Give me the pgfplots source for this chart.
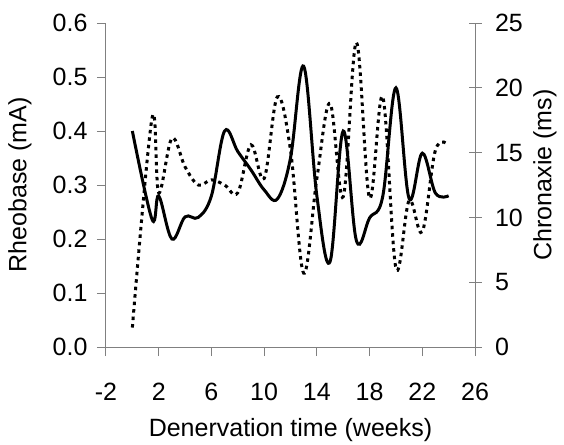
\documentclass[border=0pt]{standalone}
\usepackage{fontspec}
\setmainfont{Liberation Sans}
\usepackage{pgfplots}
\pgfplotsset{compat=1.18}
\pgfplotstableread{
x y
0 0.40
1.5 0.236
2 0.28
3 0.20
4 0.241
5 0.24
6 0.28
7 0.40
8 0.362
9 0.328
10 0.291
11 0.274
12 0.35
13 0.52
14 0.28
15 0.158
16 0.40
17 0.197
18 0.239
19 0.279
20 0.48
21 0.275
22 0.359
23 0.285
24 0.28
}\rheobase
\pgfplotstableread{
x y
0 1.5
1.5 17.7
2 11.9
3 16.1
4 13.9
5 12.5
6 12.9
7 12.5
8 11.9
9 15.6
10 13.0
11 19.3
12 15.2
13 5.7
14 13.0
15 18.8
16 11.6
17 23.5
18 11.5
19 19.3
20 6.1
21 11.3
22 8.9
23 15.2
24 15.6
}\chronaxie
\begin{document}
\begin{tikzpicture}[font=\fontsize{25}{30}\selectfont]
\path (-106pt,-97pt) rectangle (458pt,347pt);
\begin{axis}[
  at={(0,0)}, anchor=south west,
  scale only axis, width=369pt, height=324pt,
  xmin=-2, xmax=26, ymin=0, ymax=0.6,
  axis x line=bottom, axis y line=left,
  axis line style={-, draw=gray, line width=1pt},
  xtick={-2,2,6,10,14,18,22,26},
  xticklabels={-2,2,6,10,14,18,22,26},
  ytick={0,0.1,0.2,0.3,0.4,0.5,0.6},
  yticklabels={0.0,0.1,0.2,0.3,0.4,0.5,0.6},
  tick align=outside, major tick length=9pt,
  tick style={gray, line width=1pt},
  /pgf/number format/assume math mode=true,
  ticklabel style={font=\fontsize{25}{30}\selectfont},
  xticklabel style={yshift=-24pt},
  yticklabel style={xshift=-6pt},
  label style={font=\fontsize{25}{30}\selectfont},
  xlabel={Denervation time (weeks)},
  ylabel={Rheobase (mA)},
  every axis x label/.style={at={(axis description cs:0.5,0)}, anchor=center, yshift=-83pt},
  every axis y label/.style={at={(axis description cs:0,0.5)}, xshift=-86pt, anchor=center, rotate=90},
]
\addplot[black, line width=3pt, smooth, tension=0.6] table[x=x,y=y] {\rheobase};
\end{axis}
\begin{axis}[
  at={(0,0)}, anchor=south west,
  scale only axis, width=369pt, height=324pt,
  xmin=-2, xmax=26, ymin=0, ymax=25,
  axis x line=none, axis y line=right,
  axis line style={-, draw=gray, line width=1pt},
  ytick={0,5,10,15,20,25},
  yticklabels={0,5,10,15,20,25},
  tick align=center, major tick length=13pt,
  tick style={gray, line width=1pt},
  /pgf/number format/assume math mode=true,
  ticklabel style={font=\fontsize{25}{30}\selectfont},
  yticklabel style={xshift=10pt},
  ylabel={Chronaxie (ms)},
  every axis y label/.style={at={(axis description cs:1,0.5)}, xshift=70pt, yshift=10pt, anchor=center, rotate=90},
]
\addplot[black, line width=3pt, smooth, tension=0.6, dash pattern=on 3.5pt off 4pt] table[x=x,y=y] {\chronaxie};
\end{axis}
\end{tikzpicture}
\end{document}
